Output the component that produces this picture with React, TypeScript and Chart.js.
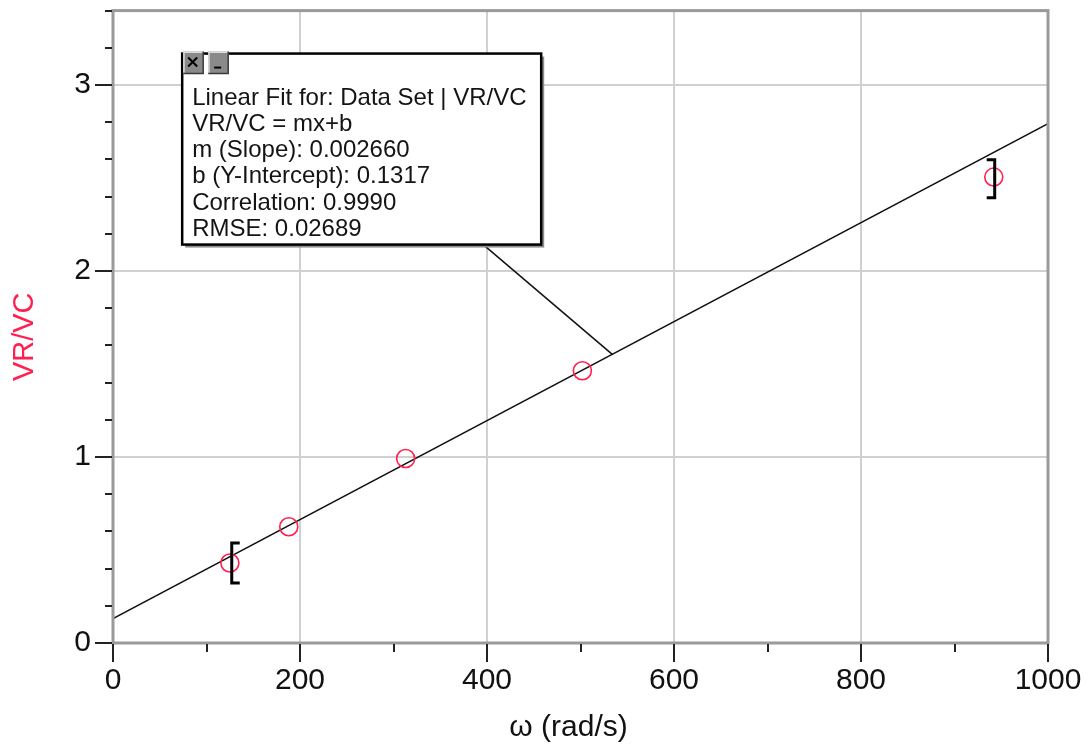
import React, { useEffect, useRef } from "react";
import { Chart, registerables } from "chart.js";

Chart.register(...registerables);

// ---------- data ----------
const omegaValues = [125, 188, 313, 502, 942]; // ω (rad/s)
const ratioValues = [0.43, 0.625, 0.992, 1.464, 2.505]; // VR/VC

const fitLineX = [0, 1000];
const fitLineY = [0.1317, 2.7917]; // m = 0.002660, b = 0.1317

const fitText = [
  "Linear Fit for: Data Set | VR/VC",
  "VR/VC = mx+b",
  "m (Slope): 0.002660",
  "b (Y-Intercept): 0.1317",
  "Correlation: 0.9990",
  "RMSE: 0.02689",
];

// examine brackets
const bracketX = [127, 943];
const bracketLow = [0.322, 2.394];
const bracketHigh = [0.537, 2.598];
const bracketSide = ["left", "right"];

// annotation box anchor (data coords) and leader line
const boxAnchorX = 74;
const boxAnchorY = 3.169;
const leaderStartX = 396;
const leaderTargetX = 534;
const leaderTargetY = 1.552;

const xMin = 0, xMax = 1000, xStep = 100, xMajor = 200;
const yMin = 0, yMax = 3.4, yStep = 0.2;

const xTitle = "ω (rad/s)";
const yTitle = "VR/VC";

const FONT = "'Liberation Sans', Arial, sans-serif";

const isMajorY = (v: number) => Math.abs(v - Math.round(v)) < 1e-6;
const isMajorX = (v: number) => Math.abs(v / xMajor - Math.round(v / xMajor)) < 1e-6;

const zeroPad = (s: any) => {
  s.paddingTop = 0;
  s.paddingBottom = 0;
  s.paddingLeft = 0;
  s.paddingRight = 0;
};

const overlayPlugin = {
  id: "overlay",
  afterDatasetsDraw(chart: any) {
    const ctx = chart.ctx as CanvasRenderingContext2D;
    const { left, right, top, bottom } = chart.chartArea;
    const xs = chart.scales.x;
    const ys = chart.scales.y;
    ctx.save();

    // frame
    ctx.strokeStyle = "#9a9a9a";
    ctx.lineWidth = 3;
    ctx.strokeRect(left, top, right - left, bottom - top);

    // tick marks
    ctx.strokeStyle = "#222";
    ctx.lineWidth = 2;
    xs.ticks.forEach((t: any) => {
      const px = Math.round(xs.getPixelForValue(t.value));
      const len = isMajorX(t.value) ? 19 : 9;
      ctx.beginPath();
      ctx.moveTo(px, bottom + 1);
      ctx.lineTo(px, bottom + len);
      ctx.stroke();
    });
    ys.ticks.forEach((t: any) => {
      const py = Math.round(ys.getPixelForValue(t.value));
      const len = isMajorY(t.value) ? 18 : 8;
      ctx.beginPath();
      ctx.moveTo(left - 1, py);
      ctx.lineTo(left - len, py);
      ctx.stroke();
    });

    // brackets
    ctx.strokeStyle = "#000";
    ctx.lineWidth = 3;
    bracketX.forEach((bx, i) => {
      const px = xs.getPixelForValue(bx);
      const y1 = ys.getPixelForValue(bracketHigh[i]);
      const y2 = ys.getPixelForValue(bracketLow[i]);
      const dir = bracketSide[i] === "left" ? 1 : -1;
      ctx.beginPath();
      ctx.moveTo(px + dir * 8, y1);
      ctx.lineTo(px, y1);
      ctx.lineTo(px, y2);
      ctx.lineTo(px + dir * 8, y2);
      ctx.stroke();
    });

    // annotation box
    const bx = xs.getPixelForValue(boxAnchorX);
    const by = ys.getPixelForValue(boxAnchorY);
    const bw = 359;
    const bh = 191;

    // leader line
    ctx.strokeStyle = "#111";
    ctx.lineWidth = 1.5;
    ctx.beginPath();
    ctx.moveTo(xs.getPixelForValue(leaderStartX), by + bh);
    ctx.lineTo(xs.getPixelForValue(leaderTargetX), ys.getPixelForValue(leaderTargetY));
    ctx.stroke();

    // shadow
    ctx.fillStyle = "#8c8c8c";
    ctx.fillRect(bx + 3, by + 3, bw, bh);
    ctx.fillStyle = "#fff";
    ctx.fillRect(bx, by, bw, bh);
    ctx.strokeStyle = "#000";
    ctx.lineWidth = 2.5;
    ctx.strokeRect(bx, by, bw, bh);

    // buttons
    const drawBtn = (x0: number, kind: string) => {
      const y0 = by - 2;
      ctx.fillStyle = "#8a8a8a";
      ctx.fillRect(x0, y0, 20, 22);
      ctx.strokeStyle = "#dcdcdc";
      ctx.lineWidth = 1.5;
      ctx.beginPath();
      ctx.moveTo(x0 + 0.75, y0 + 22);
      ctx.lineTo(x0 + 0.75, y0 + 0.75);
      ctx.lineTo(x0 + 20, y0 + 0.75);
      ctx.stroke();
      ctx.strokeStyle = "#3a3a3a";
      ctx.beginPath();
      ctx.moveTo(x0 + 20, y0);
      ctx.lineTo(x0 + 20, y0 + 22);
      ctx.lineTo(x0, y0 + 22);
      ctx.stroke();
      ctx.strokeStyle = "#000";
      ctx.lineWidth = 2;
      ctx.beginPath();
      if (kind === "close") {
        ctx.moveTo(x0 + 5, y0 + 6);
        ctx.lineTo(x0 + 14, y0 + 15);
        ctx.moveTo(x0 + 14, y0 + 6);
        ctx.lineTo(x0 + 5, y0 + 15);
      } else {
        ctx.moveTo(x0 + 6, y0 + 16);
        ctx.lineTo(x0 + 13, y0 + 16);
      }
      ctx.stroke();
    };
    drawBtn(bx + 1, "close");
    drawBtn(bx + 26, "min");

    // text
    ctx.fillStyle = "#141414";
    ctx.font = `24px ${FONT}`;
    ctx.textAlign = "left";
    ctx.textBaseline = "alphabetic";
    fitText.forEach((line, i) => {
      ctx.fillText(line, bx + 10, by + 51 + i * 26.3);
    });

    // axis titles
    ctx.fillStyle = "#111";
    ctx.font = `30px ${FONT}`;
    ctx.textAlign = "center";
    ctx.textBaseline = "middle";
    ctx.fillText(xTitle, (left + right) / 2 - 12, bottom + 85);

    ctx.save();
    ctx.translate(24.5, (top + bottom) / 2 + 10);
    ctx.rotate(-Math.PI / 2);
    ctx.fillStyle = "#ff2050";
    ctx.font = `29px ${FONT}`;
    ctx.fillText(yTitle, 0, 0);
    ctx.restore();

    ctx.restore();
  },
};

export default function App() {
  const canvasRef = useRef<HTMLCanvasElement | null>(null);

  useEffect(() => {
    document.body.style.margin = "0";
    const canvas = canvasRef.current;
    if (!canvas) return;
    const chart = new Chart(canvas, {
      type: "scatter",
      data: {
        datasets: [
          {
            label: "VR/VC",
            data: omegaValues.map((x, i) => ({ x, y: ratioValues[i] })),
            showLine: false,
            pointStyle: "circle",
            pointRadius: 9,
            pointBorderWidth: 1.6,
            pointBorderColor: "#ff2050",
            pointBackgroundColor: "rgba(0,0,0,0)",
            order: 1,
          },
          {
            label: "Linear Fit",
            type: "line",
            data: fitLineX.map((x, i) => ({ x, y: fitLineY[i] })),
            borderColor: "#111",
            borderWidth: 1.5,
            pointRadius: 0,
            fill: false,
            order: 2,
          },
        ],
      },
      options: {
        animation: false,
        responsive: false,
        devicePixelRatio: 1,
        layout: { padding: { top: 9, right: 41, left: 0, bottom: 0 } },
        plugins: {
          legend: { display: false },
          tooltip: { enabled: false },
        },
        scales: {
          x: {
            type: "linear",
            min: xMin,
            max: xMax,
            border: { display: false },
            grid: {
              drawTicks: false,
              lineWidth: 2,
              color: (c: any) => (isMajorX(c.tick.value) ? "#d0d0d0" : "rgba(0,0,0,0)"),
            },
            ticks: {
              stepSize: xStep,
              autoSkip: false,
              maxRotation: 0,
              padding: 20,
              color: "#111",
              font: { family: FONT, size: 30 },
              callback: (v: any) => (isMajorX(Number(v)) ? String(Math.round(Number(v))) : ""),
            },
            afterFit: (s: any) => {
              s.height = 106;
              zeroPad(s);
            },
          },
          y: {
            type: "linear",
            min: yMin,
            max: yMax,
            border: { display: false },
            grid: {
              drawTicks: false,
              lineWidth: 2,
              color: (c: any) => (isMajorY(c.tick.value) ? "#d0d0d0" : "rgba(0,0,0,0)"),
            },
            ticks: {
              stepSize: yStep,
              autoSkip: false,
              padding: 22,
              color: "#111",
              font: { family: FONT, size: 30 },
              callback: (v: any) => (isMajorY(Number(v)) ? String(Math.round(Number(v))) : ""),
            },
            afterFit: (s: any) => {
              s.width = 113;
              zeroPad(s);
            },
          },
        },
      },
      plugins: [overlayPlugin],
    });
    return () => chart.destroy();
  }, []);

  return (
    <div style={{ width: 1089, height: 749 }}>
      <canvas ref={canvasRef} width={1089} height={749} style={{ display: "block" }} />
    </div>
  );
}
